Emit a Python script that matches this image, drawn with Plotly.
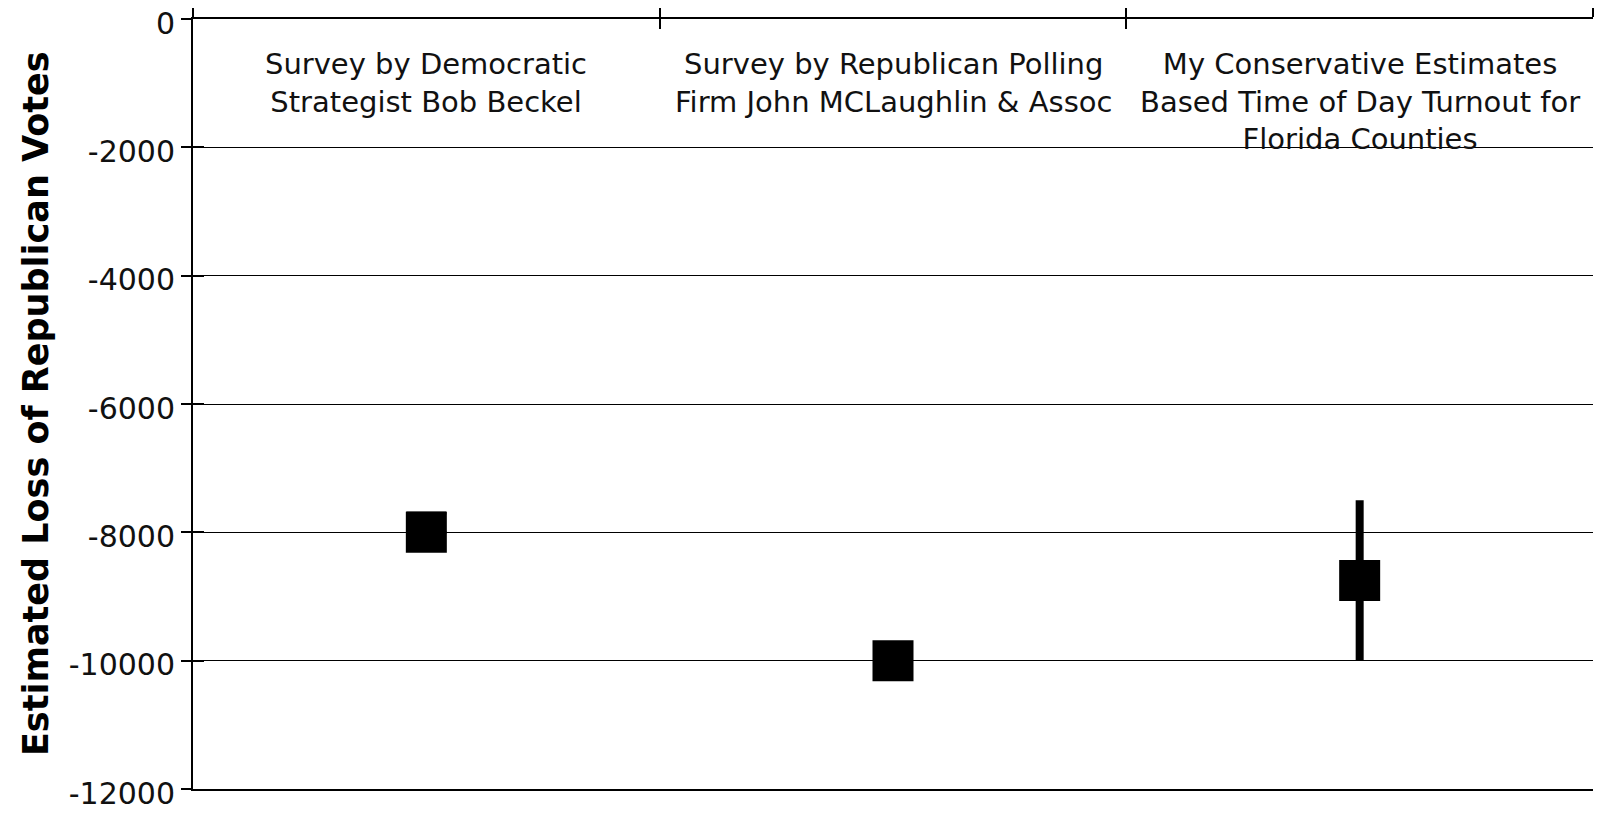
import plotly.graph_objects as go

categories = [
    "Survey by Democratic<br>Strategist Bob Beckel",
    "Survey by Republican Polling<br>Firm John MCLaughlin & Assoc",
    "My Conservative Estimates<br>Based Time of Day Turnout for<br>Florida Counties",
]
estimates = [-8000, -10000, -8750]
err_plus = [300, 0, 1250]
err_minus = [0, 0, 1250]
y_ticks = [0, -2000, -4000, -6000, -8000, -10000, -12000]
y_title = "Estimated Loss of Republican Votes"

FONT = "DejaVu Sans"
xpos = list(range(len(categories)))
bounds = [i - 0.5 for i in range(len(categories) + 1)]

fig = go.Figure()

fig.add_trace(go.Scatter(
    x=[xpos[2]], y=[estimates[2]], mode="markers",
    marker=dict(symbol="square", size=41, color="black"),
    error_y=dict(type="data", symmetric=False, array=[err_plus[2]], arrayminus=[err_minus[2]],
                 color="black", thickness=8, width=0),
    showlegend=False, hoverinfo="skip"))
fig.add_trace(go.Scatter(
    x=[xpos[0]], y=[estimates[0]], mode="markers",
    marker=dict(symbol="square", size=41, color="black"),
    error_y=dict(type="data", symmetric=False, array=[err_plus[0]], arrayminus=[err_minus[0]],
                 color="black", thickness=3, width=20),
    showlegend=False, hoverinfo="skip"))
fig.add_trace(go.Scatter(
    x=[xpos[1]], y=[estimates[1]], mode="markers",
    marker=dict(symbol="square", size=41, color="black"),
    showlegend=False, hoverinfo="skip"))

fig.add_trace(go.Scatter(x=[None], y=[None], xaxis="x2", yaxis="y2",
                         showlegend=False, hoverinfo="skip"))

axis_common = dict(showline=True, linecolor="black", linewidth=2, zeroline=False,
                   tickcolor="black", tickwidth=2, automargin=False)

fig.update_layout(
    width=1598, height=799,
    margin=dict(l=185, r=13, t=11, b=18, autoexpand=False),
    paper_bgcolor="white", plot_bgcolor="white",
    font=dict(family=FONT, size=29, color="black"),
    xaxis=dict(range=[bounds[0], bounds[-1]], side="top", tickvals=bounds,
               showticklabels=False, ticks="outside", ticklen=11, mirror=True,
               showgrid=False, **axis_common),
    xaxis2=dict(range=[bounds[0], bounds[-1]], side="top", overlaying="x", tickvals=bounds,
                showticklabels=False, ticks="inside", ticklen=10, automargin=False,
                showgrid=False, showline=False, zeroline=False,
                tickcolor="black", tickwidth=2),
    yaxis=dict(range=[-12000, 0], tickvals=y_ticks, ticktext=[str(v) for v in y_ticks],
               ticks="outside", ticklen=10, showgrid=True, gridcolor="black", gridwidth=1,
               ticklabeloverflow="allow", ticklabelshift=4,
               tickfont=dict(size=30, family=FONT, color="#111"), **axis_common),
    yaxis2=dict(range=[-12000, 0], overlaying="y", side="left", tickvals=y_ticks,
                showticklabels=False, ticks="inside", ticklen=11, showgrid=False, automargin=False,
                showline=False, zeroline=False, tickcolor="black", tickwidth=2),
)

for i, cat in enumerate(categories):
    fig.add_annotation(x=xpos[i], y=1, xref="x", yref="paper", text=cat,
                       showarrow=False, xanchor="center", yanchor="top", yshift=-26,
                       font=dict(family=FONT, size=29, color="#111"))

fig.add_annotation(x=-0.1121, y=0.5, xref="paper", yref="paper", text="<b>" + y_title + "</b>",
                   textangle=-90, showarrow=False, xanchor="center", yanchor="middle",
                   font=dict(family=FONT, size=35, color="black"))

fig.write_html("out.html")
